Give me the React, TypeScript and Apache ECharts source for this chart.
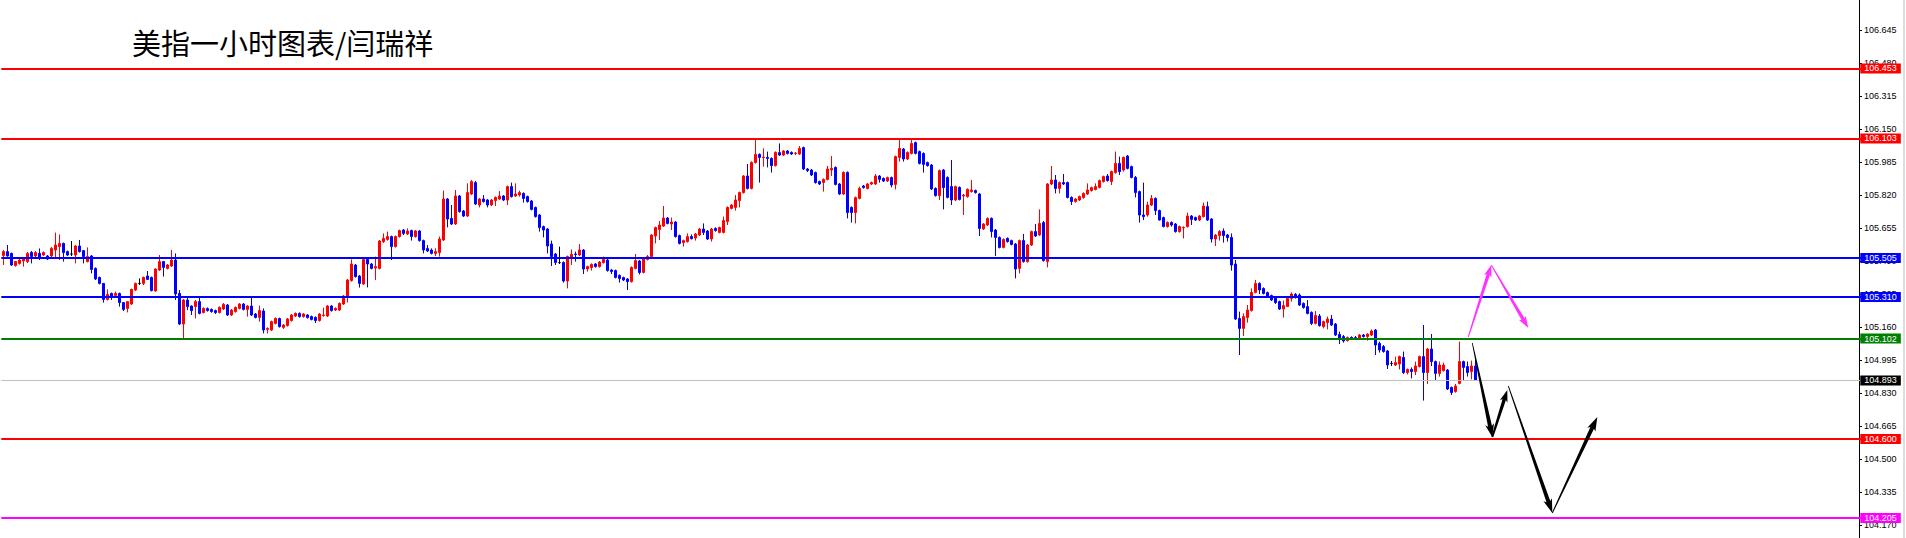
import React, { useEffect, useRef } from "react";
import * as echarts from "echarts";

const TITLE = "美指一小时图表/闫瑞祥";

// right-axis tick labels
const tickValues = [106.645, 106.48, 106.315, 106.15, 105.985, 105.82, 105.655, 105.49, 105.325, 105.16, 104.995, 104.83, 104.665, 104.5, 104.335, 104.17];

// horizontal level lines (price)
const levelPrices = [106.453, 106.103, 105.505, 105.31, 105.102, 104.893, 104.6, 104.205];

// candles [open, close, low, high]
const candlesA = [
  [105.517,105.537,105.470,105.545],[105.537,105.515,105.512,105.570],[105.528,105.470,105.465,105.532],[105.467,105.487,105.462,105.490],
  [105.478,105.495,105.472,105.500],[105.490,105.503,105.462,105.507],[105.487,105.528,105.480,105.535],[105.533,105.512,105.478,105.540],
  [105.515,105.532,105.510,105.540],[105.528,105.503,105.495,105.553],[105.520,105.532,105.515,105.538],[105.515,105.500,105.495,105.520],
  [105.515,105.553,105.510,105.560],[105.545,105.570,105.503,105.632],[105.562,105.578,105.495,105.623],[105.578,105.532,105.487,105.582],
  [105.537,105.520,105.515,105.542],[105.525,105.525,105.515,105.590],[105.520,105.565,105.478,105.570],[105.565,105.537,105.532,105.595],
  [105.542,105.512,105.478,105.545],[105.487,105.512,105.483,105.558],[105.515,105.448,105.428,105.520],[105.453,105.400,105.395,105.458],
  [105.408,105.378,105.373,105.412],[105.378,105.298,105.282,105.380],[105.298,105.323,105.293,105.348],[105.328,105.312,105.295,105.332],
  [105.318,105.328,105.315,105.337],[105.328,105.282,105.262,105.332],[105.282,105.248,105.240,105.285],[105.253,105.287,105.233,105.290],
  [105.275,105.348,105.270,105.352],[105.345,105.378,105.340,105.382],[105.378,105.378,105.370,105.403],[105.378,105.408,105.370,105.412],
  [105.415,105.398,105.395,105.440],[105.408,105.342,105.338,105.412],[105.340,105.450,105.337,105.453],[105.445,105.487,105.440,105.520],
  [105.487,105.458,105.412,105.490],[105.453,105.470,105.448,105.475],[105.465,105.495,105.460,105.545],[105.495,105.325,105.295,105.528],
  [105.328,105.175,105.170,105.345],[105.175,105.295,105.103,105.300],[105.295,105.262,105.245,105.312],[105.265,105.242,105.220,105.268],
  [105.262,105.287,105.203,105.295],[105.287,105.228,105.223,105.312],[105.232,105.253,105.228,105.258],[105.252,105.242,105.237,105.258],
  [105.248,105.237,105.232,105.253],[105.242,105.232,105.225,105.247],[105.232,105.258,105.228,105.263],[105.250,105.273,105.245,105.280],
  [105.270,105.220,105.215,105.275],[105.220,105.245,105.215,105.250],[105.237,105.258,105.232,105.263],[105.253,105.275,105.248,105.280],
  [105.275,105.248,105.243,105.280],[105.248,105.265,105.212,105.270],[105.265,105.220,105.215,105.312],[105.225,105.208,105.203,105.230],
  [105.208,105.242,105.187,105.267],[105.240,105.145,105.128,105.253],[105.148,105.153,105.128,105.158],[105.145,105.187,105.140,105.192],
  [105.178,105.203,105.173,105.208],[105.202,105.162,105.157,105.207],[105.158,105.170,105.150,105.175],[105.167,105.200,105.162,105.205],
  [105.192,105.220,105.187,105.225],[105.215,105.228,105.210,105.233],[105.228,105.212,105.207,105.233],[105.212,105.225,105.207,105.230],
  [105.220,105.207,105.202,105.225],[105.212,105.198,105.193,105.217],[105.208,105.192,105.180,105.213],[105.192,105.225,105.187,105.230],
  [105.217,105.220,105.212,105.257],[105.215,105.265,105.210,105.270],[105.265,105.242,105.237,105.270],[105.245,105.253,105.240,105.258],
  [105.245,105.278,105.240,105.283],[105.275,105.315,105.270,105.320],[105.312,105.395,105.282,105.400],[105.392,105.475,105.387,105.498],
  [105.470,105.412,105.407,105.475],[105.415,105.378,105.357,105.420],[105.375,105.498,105.370,105.503],[105.498,105.475,105.358,105.503],
  [105.475,105.453,105.448,105.480],[105.455,105.462,105.395,105.512],[105.453,105.590,105.448,105.595],[105.587,105.603,105.580,105.628],
  [105.598,105.612,105.592,105.637],[105.612,105.562,105.495,105.617],[105.562,105.612,105.557,105.617],[105.612,105.642,105.607,105.647],
];

const candlesB = [
  [105.645,105.628,105.620,105.650],[105.625,105.640,105.620,105.653],[105.642,105.612,105.592,105.647],[105.612,105.640,105.607,105.645],
  [105.640,105.592,105.587,105.645],[105.592,105.545,105.528,105.597],[105.553,105.540,105.535,105.570],[105.545,105.528,105.523,105.553],
  [105.528,105.537,105.515,105.553],[105.532,105.600,105.512,105.612],[105.595,105.800,105.590,105.842],[105.800,105.700,105.658,105.805],
  [105.703,105.675,105.670,105.770],[105.675,105.815,105.670,105.845],[105.815,105.737,105.732,105.820],[105.740,105.715,105.710,105.745],
  [105.715,105.832,105.710,105.878],[105.825,105.887,105.820,105.895],[105.882,105.775,105.770,105.890],[105.770,105.800,105.758,105.805],
  [105.800,105.787,105.782,105.820],[105.795,105.770,105.758,105.800],[105.770,105.795,105.765,105.800],[105.792,105.808,105.765,105.813],
  [105.800,105.815,105.795,105.840],[105.815,105.795,105.790,105.820],[105.795,105.862,105.770,105.867],[105.862,105.812,105.807,105.882],
  [105.815,105.825,105.810,105.878],[105.820,105.832,105.812,105.842],[105.828,105.803,105.782,105.833],[105.812,105.787,105.782,105.817],
  [105.790,105.748,105.743,105.795],[105.758,105.712,105.707,105.762],[105.720,105.657,105.637,105.725],[105.662,105.645,105.608,105.667],
  [105.650,105.565,105.528,105.655],[105.575,105.512,105.465,105.592],[105.525,105.482,105.470,105.530],[105.482,105.482,105.475,105.562],
  [105.483,105.390,105.382,105.488],[105.390,105.512,105.353,105.517],[105.508,105.523,105.470,105.548],[105.525,105.522,105.487,105.537],
  [105.520,105.545,105.515,105.575],[105.545,105.450,105.425,105.550],[105.450,105.462,105.437,105.467],[105.457,105.473,105.442,105.478],
  [105.475,105.462,105.457,105.480],[105.462,105.485,105.457,105.490],[105.482,105.498,105.477,105.512],[105.495,105.442,105.437,105.500],
  [105.445,105.437,105.425,105.450],[105.442,105.408,105.403,105.447],[105.418,105.402,105.382,105.423],[105.407,105.395,105.390,105.412],
  [105.400,105.387,105.345,105.405],[105.387,105.458,105.382,105.463],[105.453,105.492,105.448,105.525],[105.490,105.432,105.423,105.495],
  [105.433,105.500,105.428,105.505],[105.498,105.512,105.493,105.520],[105.512,105.620,105.507,105.625],[105.615,105.657,105.578,105.662],
  [105.648,105.670,105.595,105.690],[105.665,105.705,105.660,105.765],[105.705,105.678,105.673,105.710],[105.675,105.685,105.645,105.707],
  [105.685,105.612,105.607,105.690],[105.617,105.578,105.573,105.622],[105.582,105.592,105.562,105.597],[105.587,105.612,105.582,105.628],
  [105.612,105.602,105.597,105.623],[105.605,105.625,105.592,105.630],[105.620,105.650,105.615,105.655],
];

const candlesC = [
  [105.650,105.633,105.620,105.678],[105.640,105.600,105.595,105.645],[105.600,105.650,105.587,105.655],[105.653,105.642,105.637,105.658],
  [105.633,105.657,105.628,105.662],[105.633,105.692,105.628,105.712],[105.687,105.758,105.670,105.763],[105.753,105.770,105.748,105.775],
  [105.758,105.795,105.742,105.820],[105.792,105.832,105.758,105.837],[105.832,105.915,105.827,105.920],[105.915,105.853,105.848,105.975],
  [105.853,105.983,105.848,105.988],[105.982,106.023,105.977,106.103],[106.023,106.008,105.882,106.028],[106.007,106.010,105.962,106.053],
  [106.008,106.003,105.958,106.037],[106.003,105.967,105.932,106.008],[105.967,106.033,105.962,106.038],[106.032,106.020,106.015,106.078],
  [106.020,106.040,106.015,106.045],[106.040,106.028,106.023,106.045],[106.033,106.025,106.020,106.038],[106.027,106.030,106.020,106.035],
  [106.025,106.053,106.020,106.065],[106.057,105.950,105.945,106.062],[105.950,105.942,105.935,105.955],[105.945,105.920,105.915,105.950],
  [105.932,105.882,105.877,105.937],[105.887,105.875,105.870,105.892],[105.882,105.898,105.837,105.903],[105.898,105.950,105.893,105.965],
  [105.945,105.953,105.915,106.015],[105.958,105.873,105.868,105.963],[105.875,105.825,105.820,105.880],[105.825,105.933,105.820,105.938],
  [105.933,105.732,105.703,105.938],[105.758,105.732,105.682,105.763],[105.732,105.807,105.678,105.812],[105.803,105.853,105.798,105.862],
  [105.865,105.857,105.852,105.870],[105.853,105.875,105.848,105.880],[105.875,105.882,105.870,105.887],[105.875,105.915,105.870,105.925],
  [105.915,105.898,105.882,105.920],[105.903,105.890,105.885,105.908],[105.890,105.907,105.885,105.912],[105.907,105.870,105.858,105.912],
  [105.873,106.012,105.848,106.017],[106.008,106.053,105.987,106.103],[106.050,106.000,105.987,106.055],[106.000,106.033,105.995,106.038],
  [106.028,106.078,106.023,106.095],[106.082,106.028,106.023,106.087],[106.037,105.978,105.973,106.042],[106.028,105.973,105.932,106.033],
  [105.982,105.967,105.962,105.987],[105.970,105.850,105.845,105.975],[105.853,105.817,105.812,105.858],[105.817,105.942,105.795,105.947],
  [105.945,105.857,105.748,105.950],[105.908,105.808,105.803,105.913],[105.862,105.795,105.770,105.995],[105.795,105.862,105.790,105.867],
  [105.858,105.798,105.793,105.863],[105.815,105.820,105.720,105.825],[105.812,105.848,105.807,105.853],[105.837,105.845,105.832,105.895],
  [105.842,105.832,105.827,105.847],[105.825,105.653,105.615,105.830],[105.650,105.675,105.645,105.680],[105.670,105.703,105.665,105.708],
  [105.703,105.637,105.608,105.708],[105.645,105.608,105.515,105.650],[105.608,105.558,105.553,105.613],[105.558,105.598,105.553,105.603],
  [105.603,105.587,105.582,105.608],[105.592,105.573,105.568,105.597],[105.575,105.450,105.403,105.580],[105.453,105.592,105.428,105.597],
  [105.592,105.487,105.482,105.625],[105.487,105.570,105.482,105.575],[105.570,105.637,105.565,105.642],[105.637,105.615,105.610,105.675],
  [105.620,105.678,105.615,105.748],[105.682,105.492,105.487,105.690],[105.487,105.875,105.458,105.880],[105.875,105.895,105.870,105.965],
  [105.895,105.853,105.828,105.920],[105.853,105.882,105.828,105.887],[105.882,105.875,105.870,105.925],[105.882,105.808,105.803,105.887],
  [105.808,105.787,105.770,105.813],[105.787,105.800,105.782,105.805],[105.795,105.812,105.790,105.817],[105.807,105.828,105.802,105.833],
  [105.825,105.845,105.820,105.878],[105.842,105.857,105.837,105.862],[105.848,105.862,105.843,105.878],[105.858,105.892,105.853,105.897],
  [105.887,105.912,105.882,105.917],[105.915,105.892,105.887,105.925],[105.887,105.937,105.870,105.942],[105.932,105.978,105.927,106.037],
  [105.978,105.937,105.920,106.012],
];

const candlesD = [
  [105.945,106.008,105.937,106.012],[106.015,105.953,105.948,106.020],[105.962,105.908,105.903,105.967],[105.908,105.832,105.808,105.915],
  [105.837,105.720,105.682,105.842],[105.720,105.712,105.695,105.882],[105.720,105.770,105.712,105.787],[105.770,105.803,105.765,105.820],
  [105.803,105.742,105.720,105.808],[105.742,105.695,105.692,105.747],[105.707,105.662,105.658,105.712],[105.662,105.683,105.657,105.688],
  [105.683,105.670,105.662,105.688],[105.675,105.637,105.632,105.680],[105.637,105.662,105.632,105.667],[105.655,105.658,105.603,105.663],
  [105.662,105.715,105.657,105.732],[105.715,105.698,105.670,105.720],[105.707,105.695,105.690,105.712],[105.695,105.715,105.690,105.720],
  [105.712,105.765,105.707,105.782],[105.762,105.695,105.690,105.787],[105.700,105.600,105.582,105.705],[105.600,105.620,105.565,105.625],
  [105.617,105.637,105.592,105.645],[105.640,105.617,105.582,105.653],[105.620,105.607,105.587,105.625],[105.608,105.470,105.442,105.628],
  [105.475,105.200,105.195,105.495],[105.203,105.153,105.020,105.237],[105.153,105.212,105.115,105.228],[105.207,105.245,105.182,105.270],
  [105.242,105.333,105.237,105.353],[105.333,105.378,105.328,105.395],[105.378,105.345,105.325,105.383],[105.353,105.328,105.323,105.358],
  [105.332,105.315,105.310,105.337],[105.317,105.295,105.290,105.322],[105.307,105.282,105.275,105.312],[105.287,105.250,105.245,105.292],
  [105.250,105.267,105.207,105.292],[105.262,105.303,105.262,105.308],[105.303,105.325,105.287,105.333],[105.323,105.307,105.302,105.330],
  [105.320,105.270,105.265,105.328],[105.278,105.257,105.252,105.283],[105.262,105.228,105.223,105.295],[105.233,105.178,105.170,105.238],
  [105.178,105.217,105.173,105.240],[105.215,105.167,105.162,105.225],[105.162,105.187,105.153,105.192],[105.182,105.200,105.148,105.212],
  [105.200,105.170,105.165,105.220],[105.175,105.120,105.115,105.180],[105.123,105.103,105.075,105.137],[105.112,105.090,105.082,105.120],
  [105.092,105.107,105.087,105.112],[105.108,105.103,105.098,105.113],[105.107,105.100,105.095,105.115],[105.103,105.120,105.095,105.125],
  [105.120,105.112,105.107,105.125],[105.112,105.125,105.092,105.128],[105.120,105.140,105.115,105.148],[105.145,105.070,105.020,105.150],
  [105.078,105.045,105.032,105.087],[105.062,105.037,105.032,105.070],[105.040,104.970,104.950,105.045],[104.978,104.978,104.965,104.990],
  [104.970,104.982,104.965,105.012],[104.975,105.012,104.948,105.017],[105.008,104.932,104.925,105.037],[104.932,104.948,104.923,104.952],
  [104.948,104.937,104.903,104.958],[104.937,104.965,104.920,104.987],[104.962,105.012,104.958,105.017],[105.012,104.932,104.792,105.170],
  [104.932,105.050,104.875,105.055],[105.050,104.987,104.965,105.125],[104.987,104.928,104.892,104.992],[104.928,104.970,104.912,104.987],
  [104.942,104.970,104.937,104.982],[104.945,104.850,104.845,104.950],[104.858,104.832,104.820,104.862],[104.837,104.865,104.832,104.875],
  [104.878,104.987,104.873,105.087],[104.987,104.958,104.892,104.992],[104.962,104.932,104.912,104.987],[104.937,104.965,104.898,104.992],
  [104.965,104.895,104.892,104.995],
];

// forecast arrows: [candle index, price] start -> end
const blackArrows = [
  [[367.25, 105.08], [372.25, 104.61]],
  [[372.25, 104.61], [376.0, 104.845]],
  [[376.25, 104.865], [387.25, 104.23]],
  [[387.25, 104.23], [398.5, 104.71]],
];
const magentaArrows = [
  [[366.25, 105.11], [372.0, 105.47]],
  [[372.0, 105.47], [381.25, 105.155]],
];

const TOTAL_SLOTS = 465;

function arrowPoly(a: number[], b: number[], w0: number, w1: number, hl: number, hw: number) {
  const dx = b[0] - a[0], dy = b[1] - a[1];
  const L = Math.hypot(dx, dy) || 1;
  const ux = dx / L, uy = dy / L;
  const nx = -uy, ny = ux;
  const bx = b[0] - ux * hl, by = b[1] - uy * hl;
  return [
    [a[0] + nx * w0 / 2, a[1] + ny * w0 / 2],
    [bx + nx * w1 / 2, by + ny * w1 / 2],
    [bx - ux * 2 + nx * hw / 2, by - uy * 2 + ny * hw / 2],
    [b[0], b[1]],
    [bx - ux * 2 - nx * hw / 2, by - uy * 2 - ny * hw / 2],
    [bx - nx * w1 / 2, by - ny * w1 / 2],
    [a[0] - nx * w0 / 2, a[1] - ny * w0 / 2],
  ];
}

export default function App() {
  const ref = useRef<HTMLDivElement>(null);

  useEffect(() => {
    document.body.style.margin = "0";
    if (!ref.current) return;
    const chart = echarts.init(ref.current, undefined, { renderer: "svg" });

    const all = [...candlesA, ...candlesB, ...candlesC, ...candlesD];
    const data = all.map((c) => {
      if (c[0] === c[1]) {
        return {
          value: c,
          itemStyle: { color: "#000", color0: "#000", borderColor: "#000", borderColor0: "#000" },
        };
      }
      return c;
    });
    const cats = Array.from({ length: TOTAL_SLOTS }, (_, i) => String(i));

    const levelStyles = [
      { color: "#ff0000", width: 2, bg: "#ff0000", fg: "#fff" },
      { color: "#ff0000", width: 2, bg: "#ff0000", fg: "#fff" },
      { color: "#0000ff", width: 2, bg: "#0000ff", fg: "#fff" },
      { color: "#0000ff", width: 2, bg: "#0000ff", fg: "#fff" },
      { color: "#008000", width: 2, bg: "#008000", fg: "#fff" },
      { color: "#c0c0c0", width: 1, bg: "#000000", fg: "#fff" },
      { color: "#ff0000", width: 2, bg: "#ff0000", fg: "#fff" },
      { color: "#ff00ff", width: 2, bg: "#ff00ff", fg: "#fff" },
    ];

    const fmt = (v: number) => Number(v).toFixed(3);

    const option: any = {
      animation: false,
      backgroundColor: "#ffffff",
      grid: { left: 1.3, right: 44.7, top: 0, bottom: 0, containLabel: false },
      xAxis: {
        type: "category",
        data: cats,
        boundaryGap: true,
        axisLine: { show: false },
        axisTick: { show: false },
        axisLabel: { show: false },
        splitLine: { show: false },
      },
      yAxis: {
        type: "value",
        position: "right",
        min: 104.105,
        max: 106.795,
        offset: -2.3,
        axisLine: { show: true, lineStyle: { color: "#000", width: 1 } },
        axisTick: { show: true, customValues: tickValues, length: 3, lineStyle: { color: "#000" } },
        axisLabel: {
          show: true,
          customValues: tickValues,
          formatter: (v: number) => fmt(v),
          margin: 5,
          fontSize: 9,
          fontFamily: "Liberation Sans",
          color: "#000",
        },
        splitLine: { show: false },
      },
      series: [
        {
          type: "candlestick",
          data,
          barWidth: 2,
          itemStyle: {
            color: "#ff0000",
            color0: "#0000ff",
            borderColor: "#ff0000",
            borderColor0: "#0000ff",
            borderWidth: 1,
          },
          markLine: {
            silent: true,
            symbol: ["none", "none"],
            animation: false,
            precision: 3,
            label: {
              show: true,
              position: "end",
              distance: -1,
              formatter: (p: any) => p.name,
              fontSize: 9,
              fontFamily: "Liberation Sans",
              lineHeight: 9,
              padding: [1, 4, 0, 4],
              color: "#fff",
            },
            data: levelPrices.map((v, i) => ({
              name: fmt(v),
              yAxis: v,
              lineStyle: { color: levelStyles[i].color, width: levelStyles[i].width, type: "solid" },
              label: { backgroundColor: levelStyles[i].bg, color: levelStyles[i].fg },
            })),
          },
        },
      ],
    };

    chart.setOption(option);

    const pA = chart.convertToPixel({ xAxisIndex: 0, yAxisIndex: 0 }, [0, 105]) as number[];
    const pB = chart.convertToPixel({ xAxisIndex: 0, yAxisIndex: 0 }, [100, 105]) as number[];
    const step = (pB[0] - pA[0]) / 100;
    const toPx = (pt: number[]) => [
      pA[0] + pt[0] * step,
      chart.convertToPixel({ yAxisIndex: 0 }, pt[1]) as number,
    ];

    const blackSizes = [
      [0.8, 4, 11, 9],
      [2, 3.5, 10, 8],
      [0.8, 4, 12, 9],
      [1, 4, 12, 9],
    ];
    const magSizes = [
      [1, 3.5, 10, 8],
      [1, 3.5, 10, 8],
    ];

    const graphics: any[] = [
      {
        type: "text",
        left: 132,
        top: 27,
        style: {
          text: TITLE,
          fontSize: 29,
          fontFamily: "Noto Sans CJK SC",
          fill: "#000",
        },
        z: 100,
      },
      {
        type: "rect",
        shape: { x: 1903, y: 0, width: 2, height: 538 },
        style: { fill: "#dedede" },
        z: 100,
      },
    ];
    blackArrows.forEach((seg, i) => {
      const s = blackSizes[i];
      graphics.push({
        type: "polygon",
        shape: { points: arrowPoly(toPx(seg[0]), toPx(seg[1]), s[0], s[1], s[2], s[3]) },
        style: { fill: "#000" },
        z: 100,
      });
    });
    magentaArrows.forEach((seg, i) => {
      const s = magSizes[i];
      graphics.push({
        type: "polygon",
        shape: { points: arrowPoly(toPx(seg[0]), toPx(seg[1]), s[0], s[1], s[2], s[3]) },
        style: { fill: "#ff33ff" },
        z: 100,
      });
    });
    chart.setOption({ graphic: graphics });

    return () => {
      chart.dispose();
    };
  }, []);

  return <div ref={ref} style={{ width: 1906, height: 538 }} />;
}
